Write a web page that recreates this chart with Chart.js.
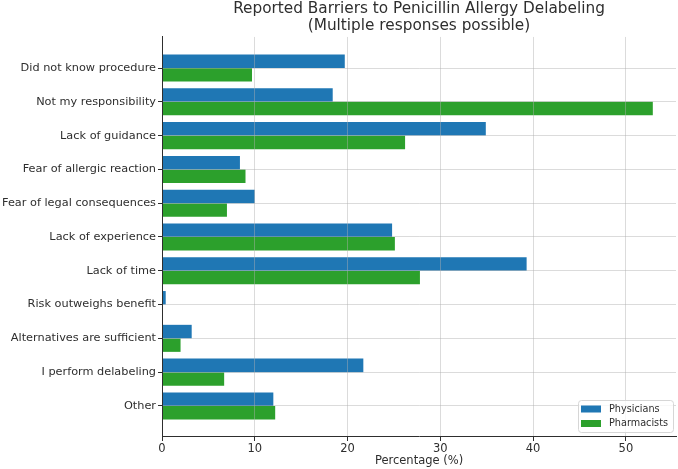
<!DOCTYPE html>
<html>
<head>
<meta charset="utf-8">
<script src="https://cdn.jsdelivr.net/npm/chart.js@4/dist/chart.umd.min.js"></script>
<style>
  body { margin: 0; background: #fff; }
  #wrap { width: 678px; height: 469px; }
</style>
</head>
<body>
<div id="wrap"><canvas id="bars"></canvas></div>
<script>
const categories = [
    'Did not know procedure',
    'Not my responsibility',
    'Lack of guidance',
    'Fear of allergic reaction',
    'Fear of legal consequences',
    'Lack of experience',
    'Lack of time',
    'Risk outweighs benefit',
    'Alternatives are sufficient',
    'I perform delabeling',
    'Other'
];
const physicians = [19.7, 18.4, 34.9, 8.4, 10.0, 24.8, 39.3, 0.4, 3.2, 21.7, 12.0];
const pharmacists = [9.7, 52.9, 26.2, 9.0, 7.0, 25.1, 27.8, 0, 2.0, 6.7, 12.2];
const xTicks = [0, 10, 20, 30, 40, 50];

const textColor = '#2e2e2e';
const gridColor = 'rgba(176,176,176,0.45)';

// leyenda dentro del area, abajo a la derecha
const insideLegend = {
    id: 'insideLegend',
    afterDraw(chart) {
        const ctx = chart.ctx;
        const area = chart.chartArea;
        const w = 95, h = 32;
        const x = area.right - 3 - w;
        const y = area.bottom - 5 - h;
        ctx.save();
        ctx.fillStyle = 'rgba(255,255,255,0.8)';
        ctx.strokeStyle = '#d6d6d6';
        ctx.lineWidth = 1;
        ctx.beginPath();
        ctx.roundRect(x + 0.5, y + 0.5, w, h, 3);
        ctx.fill();
        ctx.stroke();
        ctx.font = '9.7px "DejaVu Sans"';
        ctx.textBaseline = 'middle';
        chart.data.datasets.forEach((ds, i) => {
            const cy = y + 9 + i * 14.5;
            ctx.fillStyle = ds.backgroundColor;
            ctx.fillRect(x + 3, cy - 3.5, 20, 7);
            ctx.fillStyle = textColor;
            ctx.fillText(ds.label, x + 31, cy);
        });
        ctx.restore();
    }
};

const gridOpts = {
    z: 1,
    offset: false,
    color: gridColor,
    borderDash: [2.5, 2],
    tickColor: textColor,
    tickBorderDash: [],
    tickLength: 4
};

document.addEventListener('DOMContentLoaded', function() {
    const barsCtx = document.getElementById('bars');

    const barConfig = {
        type: 'bar',
        data: {
            datasets: [{
                label: 'Physicians',
                backgroundColor: '#1f77b4',
                data: physicians.map((v, i) => ({ x: v, y: i })),
            }, {
                label: 'Pharmacists',
                backgroundColor: '#2ca02c',
                data: pharmacists.map((v, i) => ({ x: v, y: i })),
            }]
        },
        options: {
            indexAxis: 'y',
            responsive: true,
            maintainAspectRatio: false,
            animation: false,
            layout: { padding: { left: 0, right: 2, top: 0, bottom: 0 } },
            datasets: {
                bar: { categoryPercentage: 0.8, barPercentage: 1.0 }
            },
            plugins: {
                legend: { display: false },
                tooltip: { enabled: false },
                title: {
                    display: true,
                    fullSize: false,
                    text: ['Reported Barriers to Penicillin Allergy Delabeling', '(Multiple responses possible)'],
                    color: textColor,
                    font: { family: 'DejaVu Sans', size: 15.3, weight: 'normal', lineHeight: 1.1 },
                    padding: { top: 1, bottom: 2.3 }
                }
            },
            scales: {
                x: {
                    type: 'linear',
                    offset: false,
                    min: 0,
                    max: 55.4,
                    afterFit: (scale) => { scale.height = 32; },
                    afterBuildTicks: (scale) => { scale.ticks = xTicks.map(v => ({ value: v })); },
                    grid: gridOpts,
                    border: { display: true, color: textColor, width: 1, z: 2 },
                    ticks: {
                        color: textColor,
                        padding: 1,
                        font: { family: 'DejaVu Sans', size: 11.5 }
                    },
                    title: {
                        display: true,
                        text: 'Percentage (%)',
                        color: textColor,
                        font: { family: 'DejaVu Sans', size: 11.5 },
                        padding: { top: 0, bottom: 1 }
                    }
                },
                y: {
                    type: 'linear',
                    offset: false,
                    reverse: true,
                    min: -0.92,
                    max: 10.92,
                    afterFit: (scale) => { scale.width = 162; },
                    afterBuildTicks: (scale) => { scale.ticks = categories.map((c, i) => ({ value: i })); },
                    grid: gridOpts,
                    border: { display: true, color: textColor, width: 1, z: 2 },
                    ticks: {
                        color: textColor,
                        padding: 2,
                        font: { family: 'DejaVu Sans', size: 11.3 },
                        callback: (v) => categories[v]
                    }
                }
            }
        },
        plugins: [insideLegend]
    };

    window.myBar = new Chart(barsCtx, barConfig);
});
</script>
</body>
</html>
